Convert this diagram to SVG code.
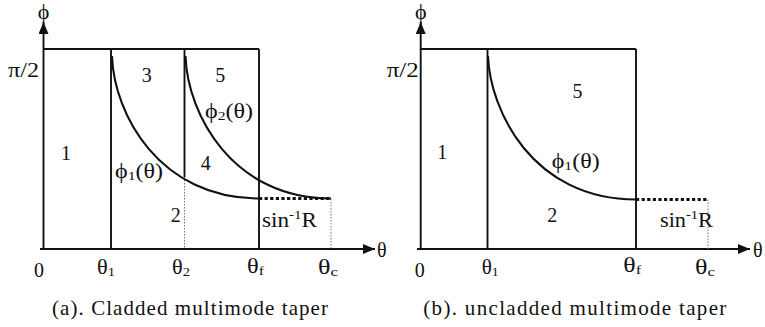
<svg xmlns="http://www.w3.org/2000/svg" width="765" height="327" viewBox="0 0 765 327">
<defs>
<marker id="arr" viewBox="0 0 12 10" refX="12" refY="5" markerWidth="12" markerHeight="10" markerUnits="userSpaceOnUse" orient="auto">
<path d="M0,0 L12,5 L0,10 Z" fill="#111"/>
</marker>
</defs>
<style>
.ax{stroke:#111;stroke-width:1.9;fill:none}
.ln{stroke:#111;stroke-width:1.9;fill:none}
.cv{stroke:#111;stroke-width:2.1;fill:none}
.thin{stroke:#777;stroke-width:1;stroke-dasharray:1.5 1.5;fill:none}
.dash{stroke:#111;stroke-width:2.8;stroke-dasharray:3.2 2.4;fill:none}
text{font-family:"Liberation Serif","Times New Roman",serif;fill:#111;font-size:20px}
.cap{font-size:21px}
.sub{font-size:13px}
.phi{font-size:22px}
</style>
<rect width="765" height="327" fill="#fff"/>

<g id="panel-a">
<g id="a-axes">
<line class="ax" x1="43.5" y1="249" x2="43.5" y2="22" marker-end="url(#arr)"/>
<line class="ax" x1="40" y1="249" x2="375" y2="249" marker-end="url(#arr)"/>
</g>
<g id="a-lines">
<line class="ln" x1="43.5" y1="49" x2="259" y2="49"/>
<line class="ln" x1="111" y1="49" x2="111" y2="249"/>
<line class="ln" x1="184.5" y1="49" x2="184.5" y2="177"/>
<line class="thin" x1="184.5" y1="177" x2="184.5" y2="249"/>
<line class="ln" x1="259" y1="49" x2="259" y2="249"/>
<line class="thin" x1="331" y1="199" x2="331" y2="249"/>
<line class="dash" x1="259" y1="198.5" x2="331" y2="198.5"/>
</g>
<g id="a-curves">
<path class="cv" d="M112,56 C114,115 160,198.5 259,198.5"/>
<path class="cv" d="M185.5,56 C187.5,115 233,198.5 331,198.5"/>
</g>
<g id="a-labels">
<text class="phi" x="43.5" y="19" text-anchor="middle">ϕ</text>
<text x="8" y="77" textLength="31" lengthAdjust="spacingAndGlyphs">π/2</text>
<text x="66" y="160" text-anchor="middle">1</text>
<text x="146.7" y="82" text-anchor="middle">3</text>
<text x="220.3" y="82" text-anchor="middle">5</text>
<text x="205.7" y="170" text-anchor="middle">4</text>
<text x="175.8" y="222" text-anchor="middle">2</text>
<text x="205" y="118" textLength="48" lengthAdjust="spacingAndGlyphs">ϕ<tspan class="sub" dy="2">2</tspan><tspan dy="-2">(θ)</tspan></text>
<text x="115" y="178" textLength="48" lengthAdjust="spacingAndGlyphs">ϕ<tspan class="sub" dy="2">1</tspan><tspan dy="-2">(θ)</tspan></text>
<text x="262" y="226.5" textLength="55" lengthAdjust="spacingAndGlyphs">sin<tspan class="sub" dy="-8">-1</tspan><tspan dy="8">R</tspan></text>
<text x="39" y="277" text-anchor="middle">0</text>
<text x="97" y="274" textLength="18" lengthAdjust="spacingAndGlyphs">θ<tspan class="sub" dy="2">1</tspan></text>
<text x="172" y="274" textLength="18" lengthAdjust="spacingAndGlyphs">θ<tspan class="sub" dy="2">2</tspan></text>
<text x="247" y="273" textLength="17" lengthAdjust="spacingAndGlyphs">θ<tspan class="sub" dy="2">f</tspan></text>
<text x="318" y="274" textLength="20" lengthAdjust="spacingAndGlyphs">θ<tspan class="sub" dy="2">c</tspan></text>
<text x="377" y="257">θ</text>
<text class="cap" x="52" y="315" textLength="276" lengthAdjust="spacing">(a). Cladded multimode taper</text>
</g>
</g>

<g id="panel-b">
<g id="b-axes">
<line class="ax" x1="420.7" y1="249" x2="420.7" y2="22" marker-end="url(#arr)"/>
<line class="ax" x1="417" y1="249" x2="750" y2="249" marker-end="url(#arr)"/>
</g>
<g id="b-lines">
<line class="ln" x1="420.7" y1="49" x2="636" y2="49"/>
<line class="ln" x1="487.5" y1="49" x2="487.5" y2="249"/>
<line class="ln" x1="636" y1="49" x2="636" y2="249"/>
<line class="thin" x1="708" y1="199.5" x2="708" y2="249"/>
<line class="dash" x1="636" y1="199.5" x2="708" y2="199.5"/>
</g>
<g id="b-curves">
<path class="cv" d="M488,56 C490,110 532,199.5 636,199.5"/>
</g>
<g id="b-labels">
<text class="phi" x="420.7" y="19" text-anchor="middle">ϕ</text>
<text x="386.7" y="77" textLength="32" lengthAdjust="spacingAndGlyphs">π/2</text>
<text x="442.3" y="159" text-anchor="middle">1</text>
<text x="577.5" y="98" text-anchor="middle">5</text>
<text x="551.7" y="167.5" textLength="48" lengthAdjust="spacingAndGlyphs">ϕ<tspan class="sub" dy="2">1</tspan><tspan dy="-2">(θ)</tspan></text>
<text x="552.3" y="222" text-anchor="middle">2</text>
<text x="660" y="226.5" textLength="53" lengthAdjust="spacingAndGlyphs">sin<tspan class="sub" dy="-8">-1</tspan><tspan dy="8">R</tspan></text>
<text x="419.7" y="277" text-anchor="middle">0</text>
<text x="481.7" y="274" textLength="17" lengthAdjust="spacingAndGlyphs">θ<tspan class="sub" dy="2">1</tspan></text>
<text x="623.3" y="272" textLength="18" lengthAdjust="spacingAndGlyphs">θ<tspan class="sub" dy="2">f</tspan></text>
<text x="695" y="274" textLength="20" lengthAdjust="spacingAndGlyphs">θ<tspan class="sub" dy="2">c</tspan></text>
<text x="753" y="257">θ</text>
<text class="cap" x="423.3" y="315" textLength="303" lengthAdjust="spacing">(b). uncladded multimode taper</text>
</g>
</g>
</svg>
